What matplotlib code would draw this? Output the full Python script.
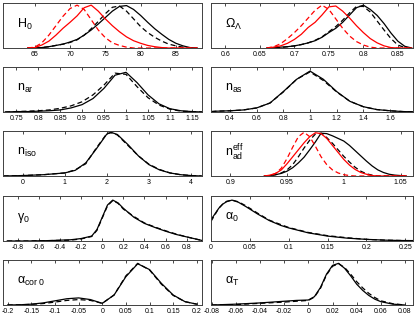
import matplotlib
matplotlib.use('Agg')
import matplotlib.pyplot as plt

plt.rcParams['font.family'] = ['Liberation Sans', 'DejaVu Sans']
plt.rcParams['mathtext.fontset'] = 'custom'
plt.rcParams['mathtext.rm'] = 'Liberation Sans'
plt.rcParams['mathtext.it'] = 'Liberation Sans'
plt.rcParams['mathtext.default'] = 'regular'

# H0
h0_x = [64, 65, 66, 67, 68, 69, 70, 71, 72, 73, 74, 75, 76, 77, 78, 79, 80,
        81, 82, 83, 84, 85, 86, 87, 88]
h0_black = [0, 0, 0.01, 0.03, 0.06, 0.09, 0.14, 0.2, 0.3, 0.42, 0.56, 0.71,
            0.86, 0.97, 0.99, 0.9, 0.76, 0.6, 0.45, 0.32, 0.2, 0.11, 0.05, 0.01, 0]
h0_black_d = [0, 0, 0.01, 0.03, 0.06, 0.09, 0.13, 0.19, 0.3, 0.45, 0.62, 0.8,
              0.95, 0.98, 0.86, 0.68, 0.5, 0.36, 0.25, 0.16, 0.09, 0.05, 0.02, 0, 0]
h0_red = [0, 0.01, 0.07, 0.16, 0.3, 0.46, 0.6, 0.75, 0.94, 1.0, 0.86, 0.68,
          0.52, 0.38, 0.26, 0.17, 0.11, 0.06, 0.03, 0.01, 0, 0, 0, 0, 0]
h0_red_d = [0, 0.02, 0.12, 0.3, 0.52, 0.74, 0.92, 1.0, 0.9, 0.66, 0.42, 0.24,
            0.12, 0.06, 0.02, 0, 0, 0, 0, 0, 0, 0, 0, 0, 0]

# Omega_Lambda
ol_x = [0.66, 0.67, 0.68, 0.69, 0.70, 0.71, 0.72, 0.73, 0.74, 0.75, 0.76,
        0.77, 0.78, 0.79, 0.80, 0.81, 0.82, 0.83, 0.84, 0.85, 0.86, 0.87]
ol_black = [0, 0.01, 0.02, 0.03, 0.05, 0.08, 0.12, 0.17, 0.25, 0.36, 0.46,
            0.6, 0.77, 0.94, 1.0, 0.9, 0.76, 0.57, 0.35, 0.16, 0.04, 0]
ol_black_d = [0, 0, 0.01, 0.03, 0.05, 0.08, 0.12, 0.18, 0.26, 0.38, 0.5,
              0.65, 0.82, 0.97, 0.97, 0.84, 0.63, 0.42, 0.22, 0.07, 0.01, 0]
ol_red = [0, 0.02, 0.05, 0.11, 0.2, 0.32, 0.48, 0.6, 0.77, 0.96, 0.98,
          0.86, 0.7, 0.52, 0.36, 0.22, 0.12, 0.05, 0.01, 0, 0, 0]
ol_red_d = [0, 0.03, 0.1, 0.22, 0.36, 0.52, 0.7, 0.88, 1.0, 0.9, 0.68,
            0.46, 0.28, 0.15, 0.07, 0.02, 0, 0, 0, 0, 0, 0]

# n_ar
nar_x = [0.725, 0.75, 0.775, 0.8, 0.825, 0.85, 0.875, 0.9, 0.925, 0.95,
         0.975, 1.0, 1.025, 1.05, 1.075, 1.1, 1.125, 1.15, 1.175]
nar_solid = [0, 0.01, 0.01, 0.02, 0.03, 0.05, 0.1, 0.18, 0.33, 0.58, 0.9,
             0.97, 0.72, 0.42, 0.2, 0.08, 0.03, 0.01, 0]
nar_dash = [0, 0.01, 0.02, 0.03, 0.05, 0.09, 0.15, 0.25, 0.42, 0.66, 0.95,
            0.92, 0.62, 0.35, 0.17, 0.07, 0.02, 0.01, 0]

# n_as
nas_x = [0.26, 0.3, 0.4, 0.5, 0.6, 0.7, 0.8, 0.9, 1.0, 1.1, 1.2, 1.3, 1.4,
         1.5, 1.6, 1.7, 1.77]
nas_solid = [0.01, 0.02, 0.03, 0.05, 0.1, 0.22, 0.5, 0.8, 1.0, 0.8, 0.5,
             0.26, 0.13, 0.06, 0.03, 0.01, 0.005]
nas_dash = [0.01, 0.02, 0.03, 0.05, 0.1, 0.22, 0.49, 0.8, 0.98, 0.77, 0.49,
            0.26, 0.13, 0.06, 0.03, 0.01, 0.005]

# n_iso
niso_x = [-0.45, 0, 0.25, 0.5, 0.75, 1.0, 1.25, 1.5, 1.75, 2.0, 2.1, 2.25,
          2.5, 2.75, 3.0, 3.25, 3.5, 3.75, 4.0, 4.25]
niso_solid = [0, 0.01, 0.02, 0.03, 0.05, 0.07, 0.13, 0.3, 0.62, 0.96, 1.0,
              0.95, 0.72, 0.46, 0.26, 0.14, 0.07, 0.03, 0.01, 0]
niso_dash = [0, 0.01, 0.02, 0.03, 0.05, 0.07, 0.14, 0.28, 0.64, 0.97, 0.99,
             0.94, 0.7, 0.46, 0.27, 0.15, 0.07, 0.03, 0.01, 0]

# n_ad^eff
nad_x = [0.930, 0.935, 0.940, 0.945, 0.950, 0.955, 0.960, 0.965, 0.970,
         0.975, 0.980, 0.985, 0.990, 0.995, 1.000, 1.005, 1.010, 1.015,
         1.020, 1.025, 1.030, 1.035, 1.040, 1.045, 1.050, 1.055]
nad_black = [0, 0.01, 0.03, 0.06, 0.11, 0.19, 0.3, 0.43, 0.6, 0.78, 0.98,
             0.97, 0.92, 0.86, 0.8, 0.7, 0.58, 0.46, 0.34, 0.23, 0.14, 0.08,
             0.04, 0.02, 0.01, 0]
nad_black_d = [0, 0.01, 0.03, 0.07, 0.14, 0.26, 0.44, 0.64, 0.82, 0.96,
               0.98, 0.88, 0.75, 0.6, 0.45, 0.32, 0.2, 0.11, 0.05, 0.02, 0,
               0, 0, 0, 0, 0]
nad_red = [0, 0.02, 0.06, 0.14, 0.28, 0.44, 0.6, 0.76, 0.9, 0.99, 0.97,
           0.86, 0.7, 0.54, 0.38, 0.25, 0.15, 0.08, 0.04, 0.01, 0, 0, 0, 0,
           0, 0]
nad_red_d = [0, 0.01, 0.06, 0.18, 0.4, 0.66, 0.9, 1.0, 0.9, 0.68, 0.44,
             0.26, 0.14, 0.07, 0.03, 0.01, 0, 0, 0, 0, 0, 0, 0, 0, 0, 0]

# gamma_0
g0_x = [-0.9, -0.7, -0.5, -0.3, -0.2, -0.1, -0.05, 0, 0.05, 0.1, 0.15, 0.2,
        0.3, 0.4, 0.5, 0.6, 0.7, 0.8, 0.9, 0.95]
g0_solid = [0, 0, 0.01, 0.03, 0.06, 0.12, 0.28, 0.58, 0.88, 1.0, 0.93, 0.8,
            0.58, 0.43, 0.33, 0.24, 0.16, 0.1, 0.04, 0.01]
g0_dash = [0, 0, 0.01, 0.02, 0.05, 0.11, 0.26, 0.56, 0.86, 0.99, 0.92, 0.78,
           0.6, 0.44, 0.34, 0.25, 0.17, 0.1, 0.04, 0.01]

# alpha_0
a0_x = [0, 0.005, 0.01, 0.015, 0.02, 0.027, 0.035, 0.045, 0.06, 0.075, 0.09,
        0.1, 0.125, 0.15, 0.175, 0.2, 0.225, 0.25, 0.26]
a0_solid = [0.52, 0.66, 0.8, 0.9, 0.96, 1.0, 0.95, 0.84, 0.66, 0.5, 0.38,
            0.32, 0.2, 0.12, 0.07, 0.04, 0.02, 0.01, 0.01]
a0_dash = [0.48, 0.64, 0.8, 0.9, 0.97, 1.0, 0.96, 0.86, 0.68, 0.51, 0.4,
           0.33, 0.21, 0.13, 0.08, 0.04, 0.02, 0.01, 0.01]

# alpha_cor0
ac_x = [-0.2, -0.175, -0.15, -0.125, -0.1, -0.075, -0.05, -0.025, 0, 0.025,
        0.05, 0.075, 0.1, 0.125, 0.15, 0.175, 0.2]
ac_solid = [0, 0.005, 0.02, 0.05, 0.1, 0.15, 0.17, 0.13, 0.04, 0.24, 0.68,
            0.99, 0.85, 0.52, 0.24, 0.08, 0.02]
ac_dash = [0, 0.005, 0.015, 0.035, 0.07, 0.11, 0.13, 0.11, 0.04, 0.24, 0.7,
           1.0, 0.84, 0.5, 0.23, 0.08, 0.02]

# alpha_T
at_x = [-0.08, -0.06, -0.04, -0.02, -0.01, 0, 0.005, 0.01, 0.015, 0.02,
        0.025, 0.03, 0.035, 0.04, 0.045, 0.05, 0.055, 0.06, 0.07, 0.08]
at_solid = [0, 0.02, 0.05, 0.09, 0.11, 0.12, 0.2, 0.42, 0.74, 0.95, 1.0,
            0.88, 0.7, 0.5, 0.35, 0.23, 0.14, 0.08, 0.02, 0]
at_dash = [0, 0.01, 0.04, 0.07, 0.09, 0.11, 0.19, 0.4, 0.72, 0.93, 0.99,
           0.9, 0.74, 0.56, 0.41, 0.28, 0.18, 0.1, 0.03, 0]

panels = [
    (r'$H_0$', h0_x, [(h0_black, 'k', '-'), (h0_black_d, 'k', '--'),
                      (h0_red, 'r', '-'), (h0_red_d, 'r', '--')],
     (60.5, 88.7), [65, 70, 75, 80, 85], 1.05),
    (r'$\Omega_\Lambda$', ol_x, [(ol_black, 'k', '-'), (ol_black_d, 'k', '--'),
                                  (ol_red, 'r', '-'), (ol_red_d, 'r', '--')],
     (0.579, 0.872), [0.6, 0.65, 0.7, 0.75, 0.8, 0.85], 1.05),
    (r'$n_{ar}$', nar_x, [(nar_solid, 'k', '-'), (nar_dash, 'k', '--')],
     (0.72, 1.173), [0.75, 0.8, 0.85, 0.9, 0.95, 1, 1.05, 1.1, 1.15], 1.1),
    (r'$n_{as}$', nas_x, [(nas_solid, 'k', '-'), (nas_dash, 'k', '--')],
     (0.257, 1.773), [0.4, 0.6, 0.8, 1, 1.2, 1.4, 1.6], 1.1),
    (r'$n_{iso}$', niso_x, [(niso_solid, 'k', '-'), (niso_dash, 'k', '--')],
     (-0.465, 4.26), [0, 1, 2, 3, 4], 1.03),
    (r'$n_{ad}^{eff}$', nad_x, [(nad_black, 'k', '-'), (nad_black_d, 'k', '--'),
                                (nad_red, 'r', '-'), (nad_red_d, 'r', '--')],
     (0.883, 1.061), [0.9, 0.95, 1, 1.05], 1.03),
    (r'$\gamma_0$', g0_x, [(g0_solid, 'k', '-'), (g0_dash, 'k', '--')],
     (-0.94, 0.945), [-0.8, -0.6, -0.4, -0.2, 0, 0.2, 0.4, 0.6, 0.8], 1.1),
    (r'$\alpha_0$', a0_x, [(a0_solid, 'k', '-'), (a0_dash, 'k', '--')],
     (0.0, 0.26), [0, 0.05, 0.1, 0.15, 0.2, 0.25], 1.1),
    (r'$\alpha_{cor\ 0}$', ac_x, [(ac_solid, 'k', '-'), (ac_dash, 'k', '--')],
     (-0.21, 0.211), [-0.2, -0.15, -0.1, -0.05, 0, 0.05, 0.1, 0.15, 0.2], 1.08),
    (r'$\alpha_T$', at_x, [(at_solid, 'k', '-'), (at_dash, 'k', '--')],
     (-0.0806, 0.0866), [-0.08, -0.06, -0.04, -0.02, 0, 0.02, 0.04, 0.06, 0.08], 1.08),
]

W, H = 415, 314
fig = plt.figure(figsize=(W / 100, H / 100), dpi=100)
col_left = [3, 211]
col_width = [199, 202]
row_top = [3, 67, 131, 196, 260]
ph = 45

for i, (label, x, curves, xlim, ticks, ytop) in enumerate(panels):
    r, c = divmod(i, 2)
    ax = fig.add_axes([col_left[c] / W, 1 - (row_top[r] + ph) / H,
                       col_width[c] / W, ph / H])
    for y, col, ls in curves:
        ax.plot(x, y, color=col, ls=ls, lw=0.9, dashes=(4, 2.5) if ls == '--' else (None, None))
    ax.set_xlim(*xlim)
    ax.set_ylim(0, ytop)
    ax.set_xticks(ticks)
    ax.set_xticklabels(['%g' % t for t in ticks])
    ax.set_yticks([])
    ax.tick_params(axis='x', direction='in', length=2, width=0.5, top=True,
                   labelsize=5, pad=2)
    for s in ax.spines.values():
        s.set_linewidth(0.7)
        s.set_color('0.25')
    ax.text(0.07, 0.52, label, transform=ax.transAxes, fontsize=9,
            va='center', ha='left')

fig.savefig('out.png', dpi=100)
